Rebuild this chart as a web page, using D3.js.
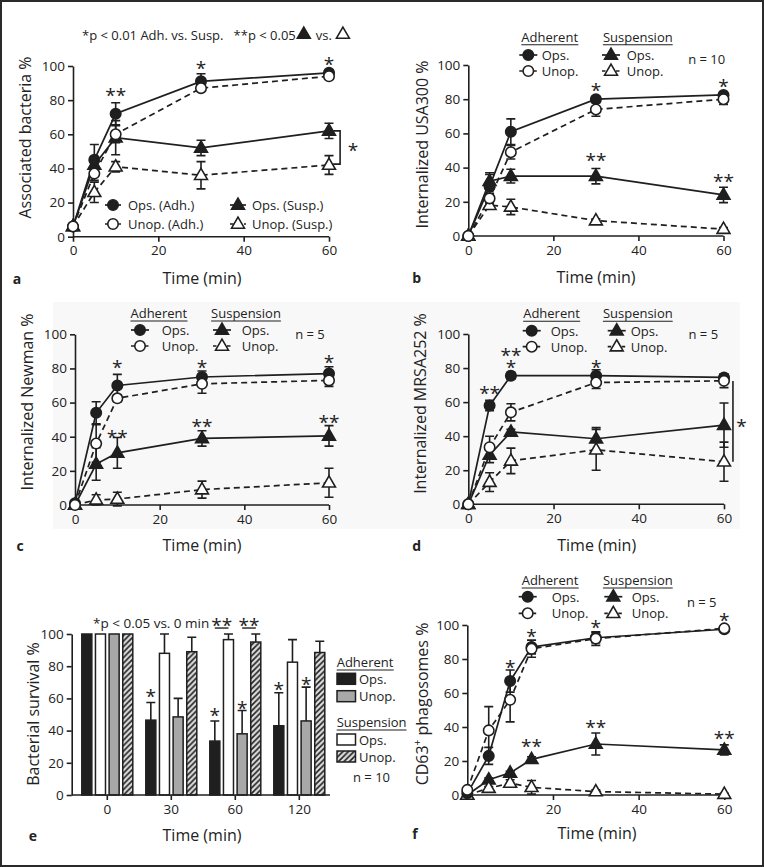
<!DOCTYPE html>
<html><head><meta charset="utf-8">
<script src="https://cdn.jsdelivr.net/npm/d3@7"></script>
<style>
body{margin:0;background:#fff}
svg{display:block}
text{font-family:"Open Sans","Noto Sans",sans-serif;fill:#222}
</style>
</head><body>
<svg id="fig" width="764" height="867"></svg>
<script>
// ================= DATA =================
const yTicks = [0, 20, 40, 60, 80, 100];
const xTicksLine = [0, 20, 40, 60];
const xTicksF = [20, 40, 60];
const timesABCD = [0, 5, 10, 30, 60];
const timesF = [0, 5, 10, 15, 30, 60];

// Panel a: Associated bacteria %
const aOpsAdh = [6, 45, 72, 91, 96],      aOpsAdhErr = [0, 9, 6.5, 4.5, 1.5];
const aUnopAdh = [6, 37, 60, 87, 94],     aUnopAdhErr = [0, 4, 5, 1.5, 1.5];
const aOpsSusp = [6, 42, 58, 52, 62],     aOpsSuspErr = [0, 5, 10, 4.5, 4.5];
const aUnopSusp = [6, 26, 41, 36, 42],    aUnopSuspErr = [0, 6, 3, 8, 5.5];
const aLegend = ["Ops. (Adh.)", "Unop. (Adh.)", "Ops. (Susp.)", "Unop. (Susp.)"];
const aTitle = ["*p < 0.01 Adh. vs. Susp.\u00a0\u00a0 **p < 0.05", "vs."];
const aStars = [[10, 86, "**"], [30, 101.8, "*"], [60, 104, "*"]];
const aBracket = [62.6, 62, 42.5, 65.6, 53.7]; // time, from, to, star time, star value

// Panel b: Internalized USA300 %
const bOpsAdh = [0, 29, 61, 80, 82.5],    bOpsAdhErr = [0, 7, 7.5, 1.5, 1.5];
const bUnopAdh = [0, 22, 49, 74, 80],     bUnopAdhErr = [0, 3, 4, 4, 3];
const bOpsSusp = [0, 32, 35, 35, 24],     bOpsSuspErr = [0, 5, 4, 4.5, 4.5];
const bUnopSusp = [0, 18, 17, 9, 4],      bUnopSuspErr = [0, 2, 4.5, 1, 1];
const bStars = [[30, 88.3, "*"], [60, 90.6, "*"], [30, 47.4, "**"], [60, 35.1, "**"]];

// Panel c: Internalized Newman %
const cOpsAdh = [1, 54, 70, 75, 77],      cOpsAdhErr = [0, 6.5, 6.5, 3.5, 4];
const cUnopAdh = [0, 36, 62.5, 71, 73],   cUnopAdhErr = [0, 11, 2, 5.5, 3.5];
const cOpsSusp = [0, 24, 30.5, 39, 40.5], cOpsSuspErr = [0, 9.5, 9, 4.5, 6];
const cUnopSusp = [0, 3, 3.5, 9, 13],     cUnopSuspErr = [0, 3, 4, 5, 8.5];
const cStars = [[10, 83.9, "*"], [30, 83.4, "*"], [60, 86.7, "*"], [10, 42.9, "**"], [30, 48.8, "**"], [60, 51.7, "**"]];

// Panel d: Internalized MRSA252 %
const dOpsAdh = [0, 58, 75.5, 75.5, 74.5],  dOpsAdhErr = [0, 3, 2, 3.5, 2];
const dUnopAdh = [0, 33.5, 54, 71.5, 72.5], dUnopAdhErr = [0, 6.5, 5, 3.5, 4];
const dOpsSusp = [0, 29, 42.5, 38.5, 46.5], dOpsSuspErr = [0, 4.5, 1.5, 6.5, 13];
const dUnopSusp = [0, 13, 25.5, 32, 25],    dUnopSuspErr = [0, 5.5, 7.5, 12, 11.5];
const dStars = [[5, 68.3, "**"], [10, 90.5, "**"], [10, 83.2, "*"], [30, 83.7, "*"]];
const dBracket = [62.1, 72.4, 25, 64.1, 48.5];

// Panel e: Bacterial survival % (bars)
const eGroups = ["0", "30", "60", "120"];
const eSeries = ["Ops. (Adh.)", "Ops. (Susp.)", "Unop. (Adh.)", "Unop. (Susp.)"];
const eOpsAdh = [100, 46.5, 33.5, 43],   eOpsAdhErr = [0, 11, 12.5, 20.5];
const eOpsSusp = [100, 88, 96.5, 82.5],  eOpsSuspErr = [0, 12, 3.5, 14];
const eUnopAdh = [100, 48.5, 38, 46],    eUnopAdhErr = [0, 11.5, 14.5, 21];
const eUnopSusp = [100, 89, 95, 88.5],   eUnopSuspErr = [0, 9, 5, 7];
const eStars = [["30", 0, 64.2], ["60", 0, 52.8], ["60", 2, 57.1], ["120", 0, 68.9], ["120", 2, 72]];
const eNote = "*p < 0.05 vs. 0 min";

// Panel f: CD63+ phagosomes %
const fOpsAdh = [1, 23, 67, 87, 92.5, 97.5], fOpsAdhErr = [0, 5, 6.5, 4, 3, 1];
const fUnopAdh = [3, 38, 56, 86, 92, 98],    fUnopAdhErr = [0, 14, 13, 5, 4, 1];
const fOpsSusp = [0, 9, 13, 21, 30, 26.5],   fOpsSuspErr = [0, 1, 1, 1.5, 6.5, 3];
const fUnopSusp = [0, 4, 7, 4.5, 2, 0.5],    fUnopSuspErr = [0, 1, 2, 4, 1, 0.5];
const fStars = [[10, 78.4, "*"], [15, 96.1, "*"], [30, 101.6, "*"], [60, 105.9, "*"], [15, 31.4, "**"], [30, 43.1, "**"], [60, 36.6, "**"]];

// ================= DRAWING =================
const svg = d3.select("#fig");
const INK = "#1f1f1f";
const TICK_FS = 13.5, LAB_FS = 16, LEG_FS = 13, STAR_FS = 19;

// frame
svg.append("rect").attr("x", 1).attr("y", 1).attr("width", 762).attr("height", 865)
  .attr("fill", "#fff").attr("stroke", "#2a2a2a").attr("stroke-width", 2);
// light background of pasted panels c/d
svg.append("rect").attr("x", 53).attr("y", 302).attr("width", 687).attr("height", 227).attr("fill", "#f8f8f8");

// hatch pattern
const defs = svg.append("defs");
const pat = defs.append("pattern").attr("id", "hatch").attr("patternUnits", "userSpaceOnUse")
  .attr("width", 5.5).attr("height", 5.5);
pat.append("rect").attr("width", 5.5).attr("height", 5.5).attr("fill", "#dcdcdc");
pat.append("path").attr("d", "M0,5.5 L5.5,0 M-1,1 L1,-1 M4.5,6.5 L6.5,4.5")
  .attr("stroke", INK).attr("stroke-width", 1.6);

function styleAxis(g) {
  g.select(".domain").attr("stroke", INK).attr("stroke-width", 1.6);
  g.selectAll(".tick line").attr("stroke", INK).attr("stroke-width", 1.6);
  g.selectAll(".tick text").style("font-size", TICK_FS + "px").attr("fill", "#222");
}

function label(x, y, txt, opts = {}) {
  const t = svg.append("text").attr("x", x).attr("y", y).attr("text-anchor", opts.anchor || "middle")
    .attr("dominant-baseline", "central").style("font-size", (opts.fs || LAB_FS) + "px").text(txt);
  if (opts.bold) t.style("font-weight", "bold");
  if (opts.rot) t.attr("transform", `rotate(-90,${x},${y})`);
  return t;
}

function star(cx, cy, s) {
  svg.append("text").attr("x", cx).attr("y", cy + 0.62 * STAR_FS).attr("text-anchor", "middle")
    .style("font-size", STAR_FS + "px").text(s);
}

function marker(g, shape, filled, x, y) {
  const sym = d3.symbol().type(shape === "circle" ? d3.symbolCircle : d3.symbolTriangle)
    .size(shape === "circle" ? 86 : 72);
  g.append("path").attr("d", sym()).attr("transform", `translate(${x},${y + (shape === "circle" ? 0 : 0.5)})`)
    .attr("fill", filled ? INK : "#fff").attr("stroke", INK).attr("stroke-width", 1.6);
}

const STYLES = [
  { shape: "circle", filled: true, dash: null },
  { shape: "circle", filled: false, dash: "6,4" },
  { shape: "triangle", filled: true, dash: null },
  { shape: "triangle", filled: false, dash: "6,4" }
];

function linePanel(cfg) {
  const x = d3.scaleLinear().domain([0, 60]).range([cfg.x0, cfg.x1]);
  const y = d3.scaleLinear().domain([0, 100]).range([cfg.y0, cfg.y1]);
  const g = svg.append("g");
  const xa = g.append("g").attr("transform", `translate(0,${cfg.y0})`)
    .call(d3.axisBottom(x).tickValues(cfg.xTicks).tickSize(5).tickSizeOuter(0).tickPadding(4));
  xa.select(".domain").attr("d", `M${cfg.x0},0H${cfg.x1}`);
  styleAxis(xa);
  const ya = g.append("g").attr("transform", `translate(${cfg.x0},0)`)
    .call(d3.axisLeft(y).tickValues(yTicks).tickSize(5).tickSizeOuter(0).tickPadding(3));
  styleAxis(ya);

  const series = cfg.series; // [vals, errs] x4 in order opsAdh, unopAdh, opsSusp, unopSusp
  const line = d3.line().x((d, i) => x(cfg.times[i])).y(d => y(d));
  series.forEach((s, k) => {
    g.append("path").attr("d", line(s[0])).attr("fill", "none").attr("stroke", INK)
      .attr("stroke-width", 1.7).attr("stroke-dasharray", STYLES[k].dash);
  });
  series.forEach((s) => {
    s[0].forEach((v, i) => {
      const e = s[1][i];
      if (!e) return;
      const px = x(cfg.times[i]);
      g.append("path").attr("d", `M${px},${y(v - e)}V${y(v + e)}M${px - 4.5},${y(v + e)}H${px + 4.5}M${px - 4.5},${y(v - e)}H${px + 4.5}`)
        .attr("stroke", INK).attr("stroke-width", 1.6).attr("fill", "none");
    });
  });
  [2, 3, 0, 1].forEach(k => {
    series[k][0].forEach((v, i) => marker(g, STYLES[k].shape, STYLES[k].filled, x(cfg.times[i]), y(v)));
  });
  cfg.stars.forEach(([t, v, s]) => star(x(t), y(v), s));
  if (cfg.bracket) {
    const [bt, from, to, st, sv] = cfg.bracket;
    const bx = x(bt);
    const d = cfg.bracketCaps ? `M${bx - 7},${y(from)}H${bx}V${y(to)}H${bx - 7}` : `M${bx},${y(from)}V${y(to)}`;
    g.append("path").attr("d", d).attr("fill", "none").attr("stroke", INK).attr("stroke-width", 1.6);
    star(x(st), y(sv), "*");
  }
  return { x, y };
}

function groupedLegend(L) {
  const hdr = (cx, txt) => {
    const t = label(cx, L.hy, txt, { fs: LEG_FS });
    const bb = t.node().getBBox();
    svg.append("line").attr("x1", bb.x).attr("x2", bb.x + bb.width).attr("y1", L.hy + 8).attr("y2", L.hy + 8)
      .attr("stroke", INK).attr("stroke-width", 1.1);
  };
  hdr(L.ax, "Adherent");
  hdr(L.sx, "Suspension");
  const rows = [[L.asx, L.atx, L.r1, 0, "Ops."], [L.asx, L.atx, L.r2, 1, "Unop."],
                [L.ssx, L.stx, L.r1, 2, "Ops."], [L.ssx, L.stx, L.r2, 3, "Unop."]];
  rows.forEach(([sx, tx, ry, k, txt]) => {
    svg.append("line").attr("x1", sx - 9).attr("x2", sx + 9).attr("y1", ry).attr("y2", ry)
      .attr("stroke", INK).attr("stroke-width", 1.7).attr("stroke-dasharray", STYLES[k].dash ? "3.5,3.5" : null);
    marker(svg, STYLES[k].shape, STYLES[k].filled, sx, ry);
    label(tx, ry, txt, { fs: LEG_FS, anchor: "start" });
  });
  label(L.nx, L.ny, L.n, { fs: LEG_FS });
}

// ---------- Panel a ----------
linePanel({ x0: 73, x1: 329, y0: 236.7, y1: 66, xTicks: xTicksLine, times: timesABCD,
  series: [[aOpsAdh, aOpsAdhErr], [aUnopAdh, aUnopAdhErr], [aOpsSusp, aOpsSuspErr], [aUnopSusp, aUnopSuspErr]],
  stars: aStars, bracket: aBracket, bracketCaps: true });
label(25, 137.5, "Associated bacteria %", { rot: true });
label(202, 278, "Time (min)");
label(17, 278, "a", { bold: true, fs: 14 });
{
  const t1 = label(82, 35, aTitle[0], { fs: 13, anchor: "start" });
  const e1 = 82 + t1.node().getComputedTextLength();
  marker(svg, "triangle", true, e1 + 8, 34);
  const t2 = label(e1 + 20, 35, aTitle[1], { fs: 13, anchor: "start" });
  const e2 = e1 + 20 + t2.node().getComputedTextLength();
  marker(svg, "triangle", false, e2 + 11, 34);
  // legend
  const rows = [[113, 128, 205, 0], [113, 128, 224, 1], [238, 252, 205, 2], [238, 252, 224, 3]];
  rows.forEach(([sx, tx, ry, k]) => {
    svg.append("line").attr("x1", sx - 8).attr("x2", sx + 8).attr("y1", ry).attr("y2", ry)
      .attr("stroke", INK).attr("stroke-width", 1.7).attr("stroke-dasharray", STYLES[k].dash ? "3.5,3.5" : null);
    marker(svg, STYLES[k].shape, STYLES[k].filled, sx, ry);
    label(tx, ry, aLegend[k], { fs: LEG_FS, anchor: "start" });
  });
}

// ---------- Panel b ----------
linePanel({ x0: 468.3, x1: 723.5, y0: 236, y1: 65, xTicks: xTicksLine, times: timesABCD,
  series: [[bOpsAdh, bOpsAdhErr], [bUnopAdh, bUnopAdhErr], [bOpsSusp, bOpsSuspErr], [bUnopSusp, bUnopSuspErr]],
  stars: bStars });
label(421.7, 144.5, "Internalized USA300 %", { rot: true });
label(596, 277, "Time (min)");
label(416.7, 277, "b", { bold: true, fs: 14 });
groupedLegend({ hy: 36.7, r1: 55, r2: 71, ax: 549.7, asx: 528.3, atx: 541.7, sx: 637.8, ssx: 611, stx: 626.7, nx: 706.7, ny: 59, n: "n = 10" });

// ---------- Panel c ----------
linePanel({ x0: 75, x1: 329, y0: 505, y1: 334.3, xTicks: xTicksLine, times: timesABCD,
  series: [[cOpsAdh, cOpsAdhErr], [cUnopAdh, cUnopAdhErr], [cOpsSusp, cOpsSuspErr], [cUnopSusp, cUnopSuspErr]],
  stars: cStars });
label(26.7, 402, "Internalized Newman %", { rot: true });
label(202, 545, "Time (min)");
label(20, 545, "c", { bold: true, fs: 14 });
groupedLegend({ hy: 313, r1: 330, r2: 346, ax: 158.8, asx: 140, atx: 161.7, sx: 246, ssx: 222, stx: 241.7, nx: 310, ny: 334, n: "n = 5" });

// ---------- Panel d ----------
linePanel({ x0: 468.3, x1: 724, y0: 504.3, y1: 334, xTicks: xTicksLine, times: timesABCD,
  series: [[dOpsAdh, dOpsAdhErr], [dUnopAdh, dUnopAdhErr], [dOpsSusp, dOpsSuspErr], [dUnopSusp, dUnopSuspErr]],
  stars: dStars, bracket: dBracket, bracketCaps: false });
label(420, 403.5, "Internalized MRSA252 %", { rot: true });
label(596.7, 545, "Time (min)");
label(416.7, 545, "d", { bold: true, fs: 14 });
groupedLegend({ hy: 313.3, r1: 330.7, r2: 346.7, ax: 551.5, asx: 531.7, atx: 550.7, sx: 637.8, ssx: 616.7, stx: 630.7, nx: 703.3, ny: 334, n: "n = 5" });

// ---------- Panel e ----------
{
  const y = d3.scaleLinear().domain([0, 100]).range([795, 634]);
  const x = d3.scaleBand().domain(eGroups).range([75.3, 331.3]);
  const xi = d3.scaleBand().domain(eSeries).range([-25.5, 25.5]).paddingInner(0.265);
  const g = svg.append("g");
  const vals = [eOpsAdh, eOpsSusp, eUnopAdh, eUnopSusp];
  const errs = [eOpsAdhErr, eOpsSuspErr, eUnopAdhErr, eUnopSuspErr];
  const fills = [INK, "#fff", "#a8a8a8", "url(#hatch)"];
  const cx = (grp, k) => x(grp) + x.bandwidth() / 2 + xi(eSeries[k]) + xi.bandwidth() / 2;
  eGroups.forEach((grp, gi) => {
    eSeries.forEach((s, k) => {
      const v = vals[k][gi], e = errs[k][gi];
      const bx = x(grp) + x.bandwidth() / 2 + xi(s);
      if (e) {
        const c = bx + xi.bandwidth() / 2;
        g.append("path").attr("d", `M${c},${y(v)}V${y(v + e)}M${c - 4.5},${y(v + e)}H${c + 4.5}`)
          .attr("stroke", INK).attr("stroke-width", 1.6);
      }
      g.append("rect").attr("x", bx).attr("y", y(v)).attr("width", xi.bandwidth()).attr("height", y(0) - y(v))
        .attr("fill", fills[k]).attr("stroke", INK).attr("stroke-width", 1.5);
    });
  });
  const xa = g.append("g").attr("transform", "translate(0,795)")
    .call(d3.axisBottom(x).tickSize(5).tickSizeOuter(0).tickPadding(4));
  xa.select(".domain").attr("d", "M71.7,0H330");
  styleAxis(xa);
  const ya = g.append("g").attr("transform", "translate(71.7,0)")
    .call(d3.axisLeft(y).tickValues(yTicks).tickSize(5).tickSizeOuter(0).tickPadding(3));
  styleAxis(ya);
  eStars.forEach(([grp, k, v]) => star(cx(grp, k), y(v), "*"));
  // ** brackets at 60
  [[0, 1], [2, 3]].forEach(([a, b]) => {
    const c1 = cx("60", a), c2 = cx("60", b);
    g.append("line").attr("x1", c1).attr("x2", c2).attr("y1", y(103.7)).attr("y2", y(103.7))
      .attr("stroke", INK).attr("stroke-width", 1.4);
    star((c1 + c2) / 2, y(108.7), "**");
  });
  label(93, 623.3, eNote, { fs: 13.5, anchor: "start" });
  label(33.3, 714, "Bacterial survival %", { rot: true });
  label(202, 835, "Time (min)");
  label(33, 835, "e", { bold: true, fs: 14 });
  // legend
  const hdr = (yy, txt) => {
    const t = label(336.7, yy, txt, { fs: LEG_FS, anchor: "start" });
    const bb = t.node().getBBox();
    svg.append("line").attr("x1", bb.x).attr("x2", bb.x + bb.width).attr("y1", yy + 8).attr("y2", yy + 8)
      .attr("stroke", INK).attr("stroke-width", 1.1);
  };
  hdr(662, "Adherent");
  hdr(722, "Suspension");
  const items = [[673.3, 0, "Ops."], [690.7, 2, "Unop."], [734, 1, "Ops."], [751, 3, "Unop."]];
  items.forEach(([yy, k, txt]) => {
    svg.append("rect").attr("x", 337).attr("y", yy).attr("width", 18.5).attr("height", 11)
      .attr("fill", fills[k]).attr("stroke", INK).attr("stroke-width", 1.5);
    label(359, yy + 5.5, txt, { fs: LEG_FS, anchor: "start" });
  });
  label(353, 776.7, "n = 10", { fs: LEG_FS, anchor: "start" });
}

// ---------- Panel f ----------
linePanel({ x0: 467.3, x1: 724.3, y0: 795, y1: 625, xTicks: xTicksF, times: timesF,
  series: [[fOpsAdh, fOpsAdhErr], [fUnopAdh, fUnopAdhErr], [fOpsSusp, fOpsSuspErr], [fUnopSusp, fUnopSuspErr]],
  stars: fStars });
{
  const t = svg.append("text").attr("transform", "translate(422.3,704) rotate(-90)").attr("text-anchor", "middle")
    .attr("dominant-baseline", "central").style("font-size", LAB_FS + "px");
  t.append("tspan").text("CD63");
  t.append("tspan").attr("dy", -5).style("font-size", "10px").text("+");
  t.append("tspan").attr("dy", 5).text(" phagosomes %");
}
label(597, 833.3, "Time (min)");
label(415, 833.3, "f", { bold: true, fs: 14 });
groupedLegend({ hy: 580, r1: 596.7, r2: 613.3, ax: 550, asx: 527.7, atx: 551.7, sx: 637.8, ssx: 613.3, stx: 631.7, nx: 701.7, ny: 601.7, n: "n = 5" });
</script>
</body></html>
